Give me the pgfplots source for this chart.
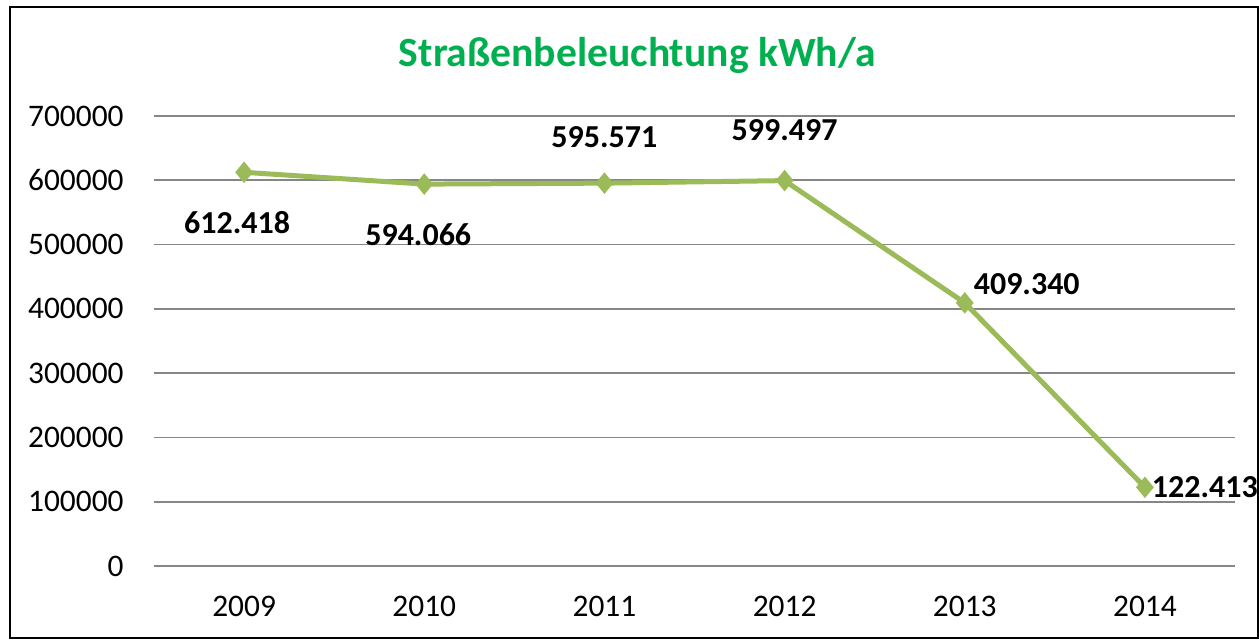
\documentclass[border=0pt]{standalone}
\usepackage{fontspec}
\setmainfont{Carlito}
\usepackage{pgfplots}
\pgfplotsset{compat=1.18}
\usepackage{pgfplotstable}

\definecolor{linegreen}{HTML}{9BBB59}
\definecolor{titlegreen}{HTML}{00B050}
\definecolor{gridgray}{HTML}{868686}

% x = category index, y = kWh/a, label = German formatted value, dx/dy = label offset (pt)
\pgfplotstableread{
x y label dx dy
0 612418 612.418 -3.5 -25
1 594066 594.066 -3 -25.5
2 595571 595.571 0 23
3 599497 599.497 0 25
4 409340 409.340 31 9.5
5 122413 122.413 30 0
}\strassen

\begin{document}
\begin{tikzpicture}
\useasboundingbox (-77pt,-36.5pt) rectangle (552.5pt,283pt);
\draw[line width=1pt] (-72pt,-36pt) rectangle (552pt,279.5pt);
\begin{axis}[
    scale only axis,
    width=540.5pt, height=225pt,
    xmin=-0.5, xmax=5.5,
    ymin=0, ymax=700000,
    xtick={0,1,2,3,4,5},
    xticklabels={2009,2010,2011,2012,2013,2014},
    ytick={0,100000,200000,300000,400000,500000,600000,700000},
    scaled y ticks=false,
    /pgf/number format/.cd, fixed, set thousands separator={}, assume math mode=true,
    /pgfplots/.cd,
    axis line style={draw=none},
    major tick length=0pt,
    ymajorgrids,
    grid style={gridgray, line width=0.8pt},
    tick label style={font=\fontsize{15.7}{18}\selectfont, text=black},
    yticklabel style={anchor=east, inner sep=0pt, xshift=-15pt},
    xticklabel style={anchor=north, inner sep=0pt, yshift=-15pt},
    title={Straßenbeleuchtung kWh/a},
    title style={at={(0.447,1.136)}, anchor=center, inner sep=0pt, yshift=-6.5pt,
        font=\fontsize{20.8}{24}\selectfont\bfseries, text=titlegreen},
    clip=false,
  ]
  \addplot[color=linegreen, line width=2.5pt, mark=diamond*,
      mark size=5pt, mark options={fill=linegreen, draw=linegreen, line width=0.5pt, xscale=1.1},
      point meta=explicit symbolic,
      visualization depends on={\thisrow{dx} \as \dx},
      visualization depends on={\thisrow{dy} \as \dy},
      nodes near coords={\pgfplotspointmeta},
      nodes near coords style={anchor=center, inner sep=0pt, text=black,
          font=\fontsize{16}{19}\selectfont\bfseries,
          xshift=\dx pt, yshift=\dy pt},
    ] table[x=x, y=y, meta=label] {\strassen};
\end{axis}
\end{tikzpicture}
\end{document}
